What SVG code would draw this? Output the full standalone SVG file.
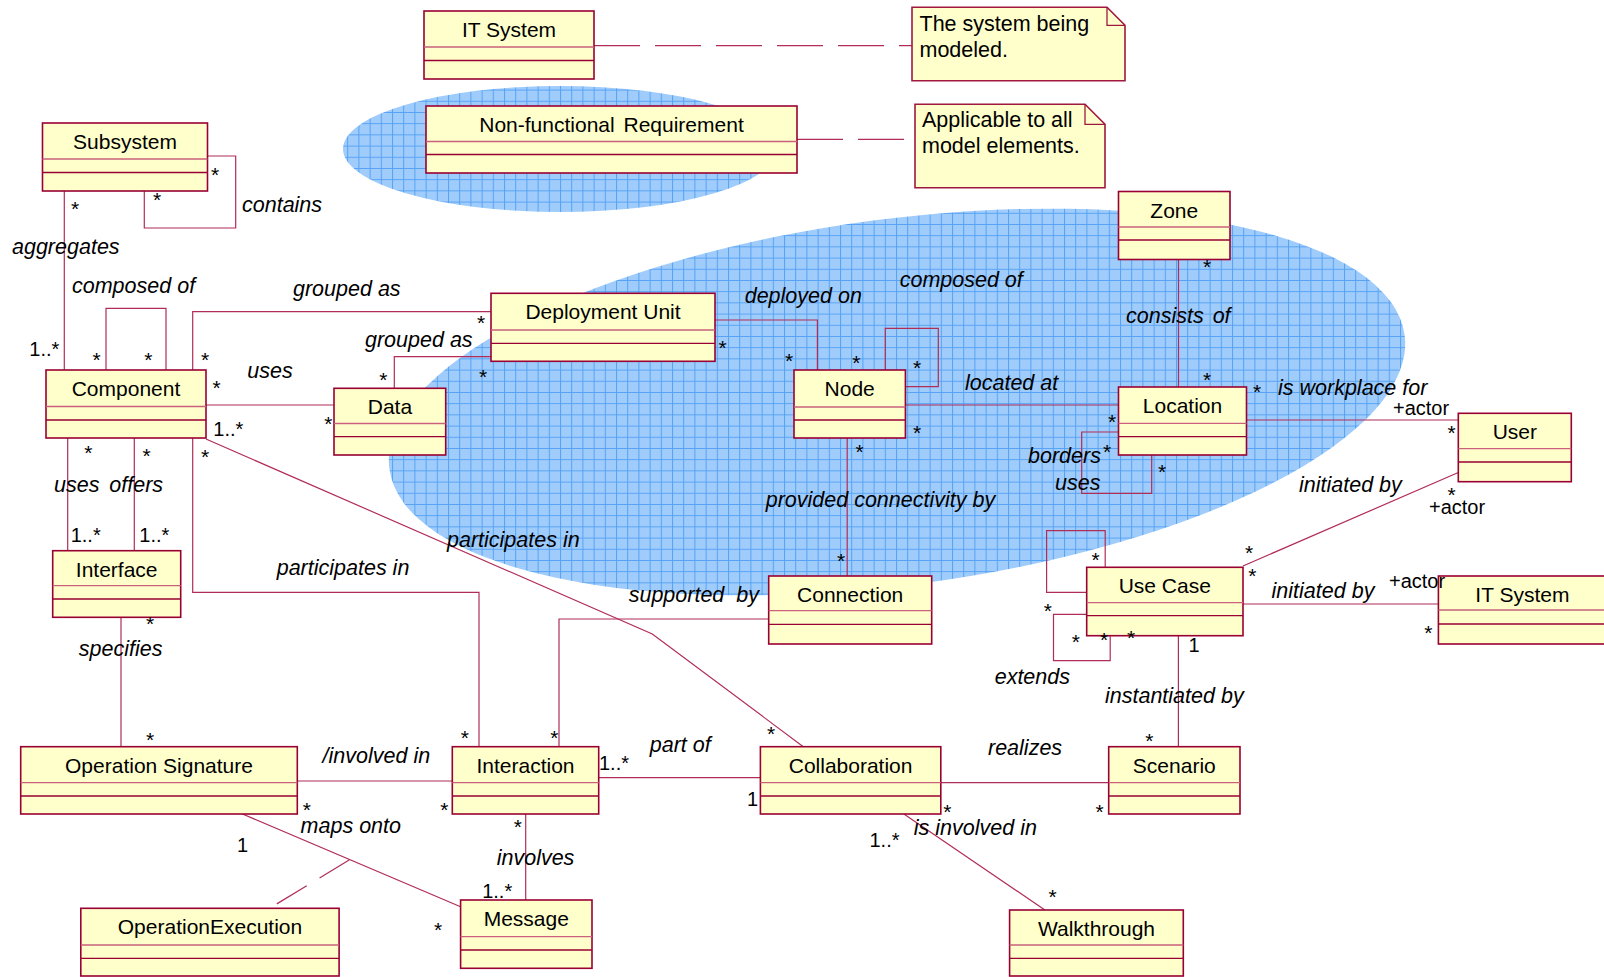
<svg xmlns="http://www.w3.org/2000/svg" width="1604" height="977" viewBox="0 0 1604 977">
<defs>
<pattern id="grid" width="11.2" height="11.2" patternUnits="userSpaceOnUse">
<rect width="11.2" height="11.2" fill="#a0ccfb"/>
<path d="M0 0.5H11.2M0.5 0V11.2" stroke="#55a2f4" stroke-width="1" fill="none"/>
</pattern>
<pattern id="grid2" width="11.2" height="11.2" patternUnits="userSpaceOnUse" patternTransform="rotate(7.5 897 402)">
<rect width="11.2" height="11.2" fill="#a0ccfb"/>
<path d="M0 0.5H11.2M0.5 0V11.2" stroke="#55a2f4" stroke-width="1" fill="none"/>
</pattern>
<style>
.box{fill:#ffffcc;stroke:#990033;stroke-width:1.6}
.d1{stroke:#c9607c;stroke-width:1.3}
.d2{stroke:#990033;stroke-width:1.3}
.note{fill:#ffffcc;stroke:#a0183f;stroke-width:1.6}
.fold{fill:none;stroke:#a0183f;stroke-width:1.3}
.cn{font-family:"Liberation Sans",Arial,sans-serif;font-size:21px;text-anchor:middle;fill:#000}
.nt{font-family:"Liberation Sans",Arial,sans-serif;font-size:21.5px;fill:#000}
.lb{font-family:"Liberation Sans",Arial,sans-serif;font-size:21.5px;font-style:italic;fill:#000}
.m{font-family:"Liberation Sans",Arial,sans-serif;font-size:20px;fill:#000}
.s{font-family:"Liberation Sans",Arial,sans-serif;font-size:21px;text-anchor:middle;fill:#000}
.c{fill:none;stroke:#b02d58;stroke-width:1.2}
.dash{fill:none;stroke:#b02d58;stroke-width:1.2;stroke-dasharray:46 15}
</style>
</defs>
<rect width="1604" height="977" fill="#ffffff"/>
<g id="regions">
<ellipse cx="560" cy="149" rx="217" ry="63" fill="url(#grid)"/>
<ellipse cx="897" cy="402" rx="512" ry="183" fill="url(#grid2)" transform="rotate(-7.5 897 402)"/>
</g>
<g id="connectors">
<path class="dash" d="M594 45.7H912"/>
<path class="dash" d="M797 139.3H915"/>
<path class="c" d="M207.4 156H235.7V228H144.3V191"/>
<path class="c" d="M64.3 191V370"/>
<path class="c" d="M106 370V308.3H166V370"/>
<path class="c" d="M192.7 370V311.7H491"/>
<path class="c" d="M206 405H334"/>
<path class="c" d="M394.3 388.3V356.7H491"/>
<path class="c" d="M715 320H817.4V370"/>
<path class="c" d="M885.3 370V328.3H938.3V386.7H905.4"/>
<path class="c" d="M905.4 405H1118.5"/>
<path class="c" d="M1178.5 259.5V387"/>
<path class="c" d="M1118.5 432H1081.7V493.3H1151.7V455"/>
<path class="c" d="M1246.5 420H1458.3"/>
<path class="c" d="M1458.3 472.5L1243 566"/>
<path class="c" d="M847.2 438V576"/>
<path class="c" d="M768.7 619H559V746.7"/>
<path class="c" d="M206 439L652.3 634L803.3 746.7"/>
<path class="c" d="M192.7 438V592.3H479V746.7"/>
<path class="c" d="M67.7 438V550.7"/>
<path class="c" d="M134.3 438V550.7"/>
<path class="c" d="M121 617.3V746.7"/>
<path class="c" d="M297.3 781H452.3"/>
<path class="c" d="M242.5 814L460.6 906.7"/>
<path class="c" d="M349.5 859.8L269.5 908.3" stroke-dasharray="35 15"/>
<path class="c" d="M525.7 814V900"/>
<path class="c" d="M598.7 777.7H760.4"/>
<path class="c" d="M940.8 782.7H1108.7"/>
<path class="c" d="M903.9 814L1044.9 910"/>
<path class="c" d="M1178.4 635.7V746.7"/>
<path class="c" d="M1243 604H1438.4"/>
<path class="c" d="M1105.2 567.3V530.7H1046.6V592.3H1086.7"/>
<path class="c" d="M1086.7 614.3H1053.5V660.7H1110.2V635.7"/>
</g>
<g id="note-system">
<path class="note" d="M912 7.3H1107L1125 25.3V80.7H912Z"/>
<path class="fold" d="M1107 7.3V25.3H1125"/>
<text class="nt" x="919.5" y="30.5">The system being</text>
<text class="nt" x="919.5" y="56.7">modeled.</text>
</g>
<g id="note-nfr">
<path class="note" d="M915 104.3H1085L1105 124.3V187.7H915Z"/>
<path class="fold" d="M1085 104.3V124.3H1105"/>
<text class="nt" x="922" y="126.7">Applicable to all</text>
<text class="nt" x="922" y="153.3">model elements.</text>
</g>
<g id="it-system-top">
<rect class="box" x="424" y="11" width="170" height="68"/>
<line class="d1" x1="424" y1="47" x2="594" y2="47"/><line class="d2" x1="424" y1="60.5" x2="594" y2="60.5"/>
<text class="cn" x="509" y="37">IT System</text>
</g>
<g id="subsystem">
<rect class="box" x="42.5" y="123" width="165" height="68"/>
<line class="d1" x1="42.5" y1="159" x2="207.5" y2="159"/><line class="d2" x1="42.5" y1="172.5" x2="207.5" y2="172.5"/>
<text class="cn" x="125" y="149">Subsystem</text>
</g>
<g id="non-functional-requirement">
<rect class="box" x="426" y="106" width="371" height="67"/>
<line class="d1" x1="426" y1="141.5" x2="797" y2="141.5"/><line class="d2" x1="426" y1="154.5" x2="797" y2="154.5"/>
<text class="cn" x="611.5" y="132" word-spacing="3">Non-functional Requirement</text>
</g>
<g id="zone">
<rect class="box" x="1118.5" y="191.5" width="111.5" height="68"/>
<line class="d1" x1="1118.5" y1="227" x2="1230" y2="227"/><line class="d2" x1="1118.5" y1="240" x2="1230" y2="240"/>
<text class="cn" x="1174.3" y="217.5">Zone</text>
</g>
<g id="component">
<rect class="box" x="46" y="370" width="160" height="68"/>
<line class="d1" x1="46" y1="406.5" x2="206" y2="406.5"/><line class="d2" x1="46" y1="420" x2="206" y2="420"/>
<text class="cn" x="126" y="396">Component</text>
</g>
<g id="data">
<rect class="box" x="334" y="388.3" width="111.7" height="66.7"/>
<line class="d1" x1="334" y1="423.5" x2="445.7" y2="423.5"/><line class="d2" x1="334" y1="436.7" x2="445.7" y2="436.7"/>
<text class="cn" x="389.9" y="414.3">Data</text>
</g>
<g id="deployment-unit">
<rect class="box" x="491" y="293.3" width="224" height="68"/>
<line class="d1" x1="491" y1="330" x2="715" y2="330"/><line class="d2" x1="491" y1="343.3" x2="715" y2="343.3"/>
<text class="cn" x="603" y="319.3">Deployment Unit</text>
</g>
<g id="node">
<rect class="box" x="794" y="370" width="111.4" height="68"/>
<line class="d1" x1="794" y1="407" x2="905.4" y2="407"/><line class="d2" x1="794" y1="420" x2="905.4" y2="420"/>
<text class="cn" x="849.7" y="396">Node</text>
</g>
<g id="location">
<rect class="box" x="1118.5" y="387" width="128" height="68"/>
<line class="d1" x1="1118.5" y1="423.3" x2="1246.5" y2="423.3"/><line class="d2" x1="1118.5" y1="436.7" x2="1246.5" y2="436.7"/>
<text class="cn" x="1182.5" y="413">Location</text>
</g>
<g id="user">
<rect class="box" x="1458.3" y="413.3" width="113" height="68.4"/>
<line class="d1" x1="1458.3" y1="448.7" x2="1571.3" y2="448.7"/><line class="d2" x1="1458.3" y1="462" x2="1571.3" y2="462"/>
<text class="cn" x="1514.8" y="439.3">User</text>
</g>
<g id="interface">
<rect class="box" x="52.7" y="550.7" width="128" height="66.6"/>
<line class="d1" x1="52.7" y1="585.7" x2="180.7" y2="585.7"/><line class="d2" x1="52.7" y1="599" x2="180.7" y2="599"/>
<text class="cn" x="116.7" y="576.7">Interface</text>
</g>
<g id="connection">
<rect class="box" x="768.7" y="576" width="163" height="68"/>
<line class="d1" x1="768.7" y1="610.7" x2="931.7" y2="610.7"/><line class="d2" x1="768.7" y1="624.3" x2="931.7" y2="624.3"/>
<text class="cn" x="850.2" y="602">Connection</text>
</g>
<g id="use-case">
<rect class="box" x="1086.7" y="567.3" width="156.3" height="68.4"/>
<line class="d1" x1="1086.7" y1="602.7" x2="1243" y2="602.7"/><line class="d2" x1="1086.7" y1="615.7" x2="1243" y2="615.7"/>
<text class="cn" x="1164.8" y="593.3">Use Case</text>
</g>
<g id="it-system-actor">
<rect class="box" x="1438.4" y="576" width="168" height="68"/>
<line class="d1" x1="1438.4" y1="610" x2="1606.4" y2="610"/><line class="d2" x1="1438.4" y1="624" x2="1606.4" y2="624"/>
<text class="cn" x="1522.4" y="602">IT System</text>
</g>
<g id="operation-signature">
<rect class="box" x="20.7" y="746.7" width="276.6" height="67.3"/>
<line class="d1" x1="20.7" y1="782.7" x2="297.3" y2="782.7"/><line class="d2" x1="20.7" y1="796" x2="297.3" y2="796"/>
<text class="cn" x="159" y="772.7">Operation Signature</text>
</g>
<g id="interaction">
<rect class="box" x="452.3" y="746.7" width="146.4" height="67.3"/>
<line class="d1" x1="452.3" y1="782.7" x2="598.7" y2="782.7"/><line class="d2" x1="452.3" y1="796" x2="598.7" y2="796"/>
<text class="cn" x="525.5" y="772.7">Interaction</text>
</g>
<g id="collaboration">
<rect class="box" x="760.4" y="746.7" width="180.4" height="67.3"/>
<line class="d1" x1="760.4" y1="782.7" x2="940.8" y2="782.7"/><line class="d2" x1="760.4" y1="796" x2="940.8" y2="796"/>
<text class="cn" x="850.6" y="772.7">Collaboration</text>
</g>
<g id="scenario">
<rect class="box" x="1108.7" y="746.7" width="131.3" height="67.3"/>
<line class="d1" x1="1108.7" y1="782.7" x2="1240" y2="782.7"/><line class="d2" x1="1108.7" y1="796" x2="1240" y2="796"/>
<text class="cn" x="1174.3" y="772.7">Scenario</text>
</g>
<g id="operation-execution">
<rect class="box" x="80.8" y="908.3" width="258.3" height="67.7"/>
<line class="d1" x1="80.8" y1="945" x2="339.1" y2="945"/><line class="d2" x1="80.8" y1="958.3" x2="339.1" y2="958.3"/>
<text class="cn" x="210" y="934.3">OperationExecution</text>
</g>
<g id="message">
<rect class="box" x="460.6" y="900" width="131.4" height="68.3"/>
<line class="d1" x1="460.6" y1="936.7" x2="592" y2="936.7"/><line class="d2" x1="460.6" y1="950" x2="592" y2="950"/>
<text class="cn" x="526.3" y="926">Message</text>
</g>
<g id="walkthrough">
<rect class="box" x="1009.6" y="910" width="173.7" height="66"/>
<line class="d1" x1="1009.6" y1="945" x2="1183.3" y2="945"/><line class="d2" x1="1009.6" y1="958.3" x2="1183.3" y2="958.3"/>
<text class="cn" x="1096.5" y="936">Walkthrough</text>
</g>
<g id="labels">
<text class="lb" x="242" y="212">contains</text>
<text class="lb" x="12" y="254">aggregates</text>
<text class="lb" x="72" y="293">composed of</text>
<text class="lb" x="293" y="296">grouped as</text>
<text class="lb" x="365" y="346.7">grouped as</text>
<text class="lb" x="247.3" y="378.3">uses</text>
<text class="lb" x="54" y="491.7">uses</text>
<text class="lb" x="109.3" y="491.7">offers</text>
<text class="lb" x="276.7" y="575">participates in</text>
<text class="lb" x="447" y="546.7">participates in</text>
<text class="lb" x="744.7" y="303.3">deployed on</text>
<text class="lb" x="899.7" y="286.7">composed of</text>
<text class="lb" x="965" y="390">located at</text>
<text class="lb" x="1126" y="323.3" word-spacing="3">consists of</text>
<text class="lb" x="1278" y="395">is workplace for</text>
<text class="lb" x="1028" y="463.3">borders</text>
<text class="lb" x="1055" y="490">uses</text>
<text class="lb" x="765.7" y="506.7">provided connectivity by</text>
<text class="lb" x="1299" y="491.7">initiated by</text>
<text class="lb" x="628.7" y="601.7" word-spacing="6">supported by</text>
<text class="lb" x="1271.6" y="598.3">initiated by</text>
<text class="lb" x="78.8" y="656">specifies</text>
<text class="lb" x="994.7" y="684.3">extends</text>
<text class="lb" x="1105" y="703.3">instantiated by</text>
<text class="lb" x="322.6" y="763.3">/involved in</text>
<text class="lb" x="649.8" y="751.7">part of</text>
<text class="lb" x="988" y="755">realizes</text>
<text class="lb" x="300.6" y="832.7">maps onto</text>
<text class="lb" x="913.8" y="835">is involved in</text>
<text class="lb" x="496.7" y="865">involves</text>
<text class="m" x="1393" y="415">+actor</text>
<text class="m" x="1429" y="514.3">+actor</text>
<text class="m" x="1389" y="588">+actor</text>
<text class="m" x="29.3" y="356">1..*</text>
<text class="m" x="213.3" y="436">1..*</text>
<text class="m" x="70.7" y="541.7">1..*</text>
<text class="m" x="139.3" y="541.7">1..*</text>
<text class="m" x="599" y="770">1..*</text>
<text class="m" x="747" y="806">1</text>
<text class="m" x="237" y="851.7">1</text>
<text class="m" x="482.2" y="898.3">1..*</text>
<text class="m" x="869.5" y="846.7">1..*</text>
<text class="m" x="1188.5" y="651.5">1</text>
<text class="s" x="215" y="182">*</text>
<text class="s" x="157" y="207">*</text>
<text class="s" x="75" y="216">*</text>
<text class="s" x="96.7" y="367">*</text>
<text class="s" x="148.3" y="367">*</text>
<text class="s" x="205" y="367">*</text>
<text class="s" x="481" y="330.3">*</text>
<text class="s" x="216.7" y="395.3">*</text>
<text class="s" x="328.3" y="431.3">*</text>
<text class="s" x="383.3" y="387">*</text>
<text class="s" x="483" y="383.7">*</text>
<text class="s" x="722.5" y="355.3">*</text>
<text class="s" x="789" y="368">*</text>
<text class="s" x="856.4" y="370.3">*</text>
<text class="s" x="917" y="375.3">*</text>
<text class="s" x="917" y="440.3">*</text>
<text class="s" x="859.5" y="458.7">*</text>
<text class="s" x="841" y="568">*</text>
<text class="s" x="1112" y="428.7">*</text>
<text class="s" x="1207" y="273.7">*</text>
<text class="s" x="1207" y="387">*</text>
<text class="s" x="1257" y="399.3">*</text>
<text class="s" x="1107" y="458.7">*</text>
<text class="s" x="1162" y="478.7">*</text>
<text class="s" x="1451.7" y="440.3">*</text>
<text class="s" x="1451.7" y="501.5">*</text>
<text class="s" x="1249" y="559.7">*</text>
<text class="s" x="1252.3" y="582.7">*</text>
<text class="s" x="1095.5" y="567">*</text>
<text class="s" x="1047.8" y="618">*</text>
<text class="s" x="1075.9" y="649.3">*</text>
<text class="s" x="1104" y="647">*</text>
<text class="s" x="1131" y="645.3">*</text>
<text class="s" x="1428.4" y="640.3">*</text>
<text class="s" x="88.3" y="460.3">*</text>
<text class="s" x="146.7" y="462.7">*</text>
<text class="s" x="205" y="463.7">*</text>
<text class="s" x="150" y="631">*</text>
<text class="s" x="150" y="747">*</text>
<text class="s" x="464.8" y="744.7">*</text>
<text class="s" x="554.3" y="745.3">*</text>
<text class="s" x="771" y="741.3">*</text>
<text class="s" x="306.8" y="817">*</text>
<text class="s" x="444.4" y="817">*</text>
<text class="s" x="517.8" y="833.7">*</text>
<text class="s" x="438.2" y="937">*</text>
<text class="s" x="947.4" y="818.7">*</text>
<text class="s" x="1099.6" y="818.7">*</text>
<text class="s" x="1149.3" y="748">*</text>
<text class="s" x="1052.7" y="904.3">*</text>
</g>
</svg>
